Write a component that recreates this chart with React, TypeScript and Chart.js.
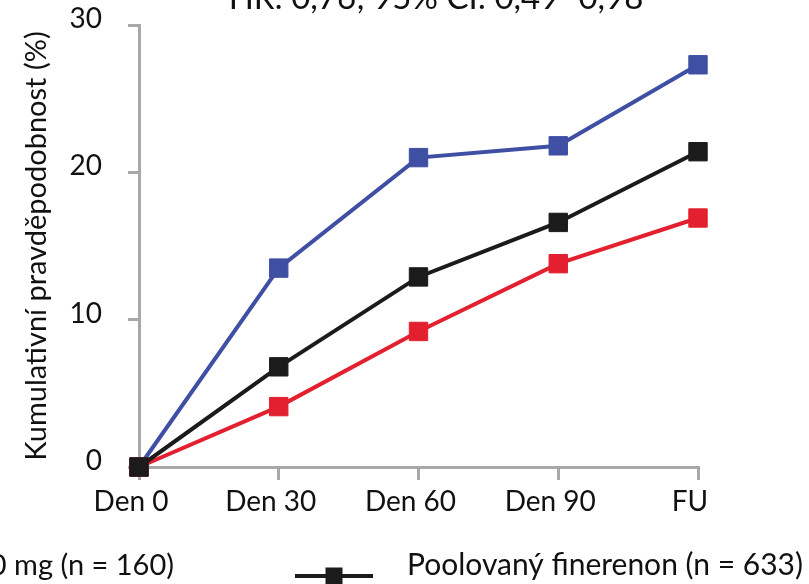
import React, { useEffect, useRef } from "react";
import { Chart, registerables } from "chart.js";

Chart.register(...registerables);

// ---------- data ----------
const categories = ["Den 0", "Den 30", "Den 60", "Den 90", "FU"];
const eplerenonValues = [0, 13.5, 21.0, 21.8, 27.3];
const pooledValues = [0, 6.8, 12.9, 16.6, 21.4];
const finerenon1020Values = [0, 4.1, 9.2, 13.8, 16.9];
const yTickValues = [0, 10, 20, 30];
const titleText = "HR: 0,76; 95% CI: 0,49–0,98";
const yAxisTitle = "Kumulativní pravděpodobnost (%)";
const eplerenonLabel = "Eplerenon";
const finerenon1020Label = "Finerenon 10 → 20 mg (n = 160)";
const pooledLabel = "Poolovaný finerenon (n = 633)";

// ---------- styles ----------
const BLUE = "#3f4fa3";
const RED = "#e3202f";
const BLACK = "#1b1b1b";
const GRAY = "#a8a8a8";
const TEXT = "#111111";
const FONT = "Lato, 'Open Sans', sans-serif";

function drawLegendIcon(ctx: CanvasRenderingContext2D, cx: number, cy: number, color: string) {
  ctx.save();
  ctx.strokeStyle = color;
  ctx.fillStyle = color;
  ctx.lineWidth = 4;
  ctx.beginPath();
  ctx.moveTo(cx - 39, cy);
  ctx.lineTo(cx + 39, cy);
  ctx.stroke();
  ctx.fillRect(cx - 8.5, cy - 8.5, 17, 17);
  ctx.restore();
}

const overlayPlugin = {
  id: "overlayText",
  afterDraw(chart: any) {
    const { ctx, chartArea } = chart;
    ctx.save();
    // title (cropped at the top in the reference)
    ctx.fillStyle = TEXT;
    ctx.font = `33px ${FONT}`;
    ctx.textAlign = "center";
    ctx.textBaseline = "alphabetic";
    ctx.fillText(titleText, chartArea.left + 297, chartArea.top - 16);

    // legend row (cropped at the left / bottom in the reference)
    const baseY = chartArea.bottom + 108;
    const iconY = baseY + 1;
    // item 1: red, text ends near left edge
    ctx.font = `29px ${FONT}`;
    ctx.textAlign = "right";
    const item1Right = chartArea.left + 35;
    ctx.fillText(finerenon1020Label, item1Right, baseY);
    const w1 = ctx.measureText(finerenon1020Label).width;
    drawLegendIcon(ctx, item1Right - w1 - 73, iconY, RED);
    // item 2: black pooled
    ctx.font = `30px ${FONT}`;
    drawLegendIcon(ctx, chartArea.left + 195, iconY, BLACK);
    ctx.textAlign = "left";
    ctx.fillText(pooledLabel, chartArea.left + 268, baseY);
    ctx.restore();
  },
};

const commonSeries = {
  borderWidth: 4,
  pointStyle: "rect" as const,
  pointRadius: 13,
  pointHoverRadius: 13,
  pointBorderWidth: 1,
  tension: 0,
  clip: false as const,
  fill: false,
};

export default function App() {
  const canvasRef = useRef<HTMLCanvasElement | null>(null);

  useEffect(() => {
    const canvas = canvasRef.current;
    if (!canvas) return;
    const chart = new Chart(canvas, {
      type: "line",
      data: {
        labels: categories,
        datasets: [
          {
            ...commonSeries,
            label: pooledLabel,
            data: pooledValues,
            borderColor: BLACK,
            backgroundColor: BLACK,
            pointBackgroundColor: BLACK,
            pointBorderColor: BLACK,
            order: 0,
          },
          {
            ...commonSeries,
            label: finerenon1020Label,
            data: finerenon1020Values,
            borderColor: RED,
            backgroundColor: RED,
            pointBackgroundColor: RED,
            pointBorderColor: RED,
            order: 1,
          },
          {
            ...commonSeries,
            label: eplerenonLabel,
            data: eplerenonValues,
            borderColor: BLUE,
            backgroundColor: BLUE,
            pointBackgroundColor: BLUE,
            pointBorderColor: BLUE,
            order: 2,
          },
        ],
      },
      options: {
        responsive: false,
        animation: false,
        devicePixelRatio: 1,
        layout: { padding: { top: 25, right: 111, bottom: 57, left: 0 } },
        plugins: {
          legend: { display: false },
          title: { display: false },
          tooltip: { enabled: false },
        },
        scales: {
          x: {
            type: "category",
            offset: false,
            grid: {
              drawOnChartArea: false,
              drawTicks: true,
              color: GRAY,
              lineWidth: 3,
              tickLength: 13,
            },
            border: { display: true, color: GRAY, width: 3 },
            ticks: {
              color: TEXT,
              font: { family: FONT, size: 28 },
              padding: 5,
              labelOffset: -8,
              maxRotation: 0,
              autoSkip: false,
            },
            afterFit: (scale: any) => {
              scale.height = 60;
            },
          },
          y: {
            min: 0,
            max: 30,
            grid: {
              drawOnChartArea: false,
              drawTicks: true,
              color: GRAY,
              lineWidth: 3,
              tickLength: 11,
            },
            border: { display: true, color: GRAY, width: 3 },
            ticks: {
              color: TEXT,
              font: { family: FONT, size: 28 },
              padding: 26,
              labelOffset: -6,
            },
            afterBuildTicks: (scale: any) => {
              scale.ticks = yTickValues.map((v) => ({ value: v }));
            },
            title: {
              display: true,
              text: yAxisTitle,
              color: TEXT,
              font: { family: FONT, size: 29 },
              padding: { top: 19, bottom: 0 },
            },
            afterFit: (scale: any) => {
              scale.width = 139;
              scale.paddingTop = 0;
              scale.paddingBottom = 0;
            },
          },
        },
      },
      plugins: [overlayPlugin],
    });
    return () => chart.destroy();
  }, []);

  return (
    <div
      style={{
        position: "fixed",
        left: 0,
        top: 0,
        width: 809,
        height: 584,
        overflow: "hidden",
        background: "#ffffff",
      }}
    >
      <canvas
        ref={canvasRef}
        width={809}
        height={584}
        style={{ display: "block", width: 809, height: 584 }}
      />
    </div>
  );
}
